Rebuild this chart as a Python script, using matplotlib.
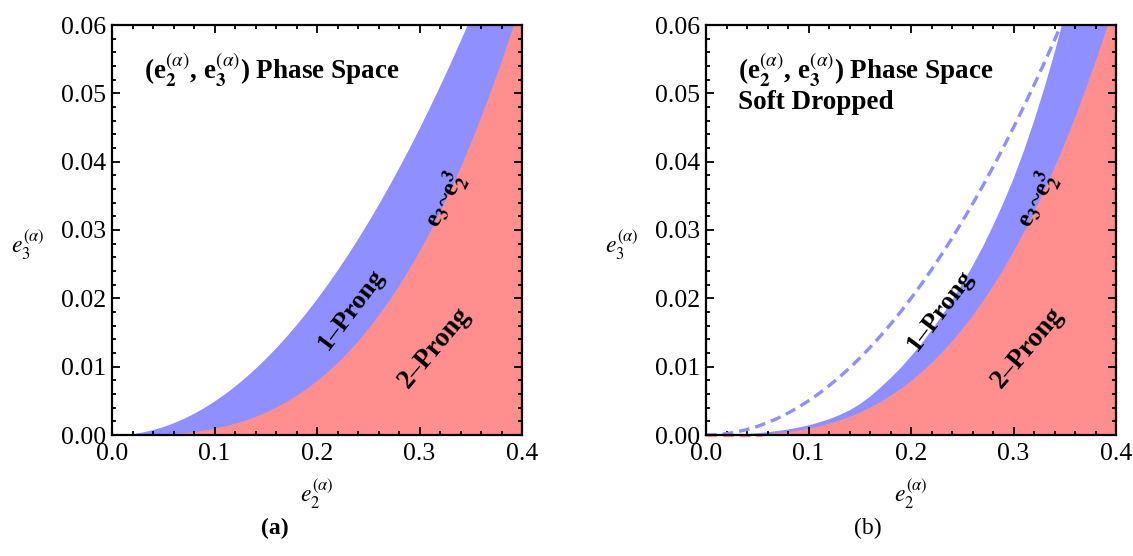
import matplotlib
matplotlib.use("Agg")
import matplotlib.pyplot as plt
import numpy as np

plt.rcParams['font.family'] = 'serif'
plt.rcParams['font.serif'] = ['Liberation Serif', 'DejaVu Serif']
plt.rcParams['mathtext.fontset'] = 'stix'

# ---- data ----
e2 = [0.00, 0.01, 0.02, 0.03, 0.04, 0.05, 0.06, 0.07, 0.08, 0.09, 0.10,
      0.11, 0.12, 0.13, 0.14, 0.15, 0.16, 0.17, 0.18, 0.19, 0.20,
      0.21, 0.22, 0.23, 0.24, 0.25, 0.26, 0.27, 0.28, 0.29, 0.30,
      0.31, 0.32, 0.33, 0.34, 0.35, 0.36, 0.37, 0.38, 0.39, 0.40]
# upper edge of the 1-prong band (also the dashed curve on the right)
upper_1prong = [0.0, 0.00005, 0.0002, 0.00045, 0.0008, 0.00125, 0.0018, 0.00245,
                0.0032, 0.00405, 0.0050, 0.00605, 0.0072, 0.00845, 0.0098,
                0.01125, 0.0128, 0.01445, 0.0162, 0.01805, 0.0200, 0.02205,
                0.0242, 0.02645, 0.0288, 0.03125, 0.0338, 0.03645, 0.0392,
                0.04205, 0.0450, 0.04805, 0.0512, 0.05445, 0.0578, 0.06125,
                0.0648, 0.06845, 0.0722, 0.07605, 0.0800]
# boundary e3 ~ e2^3 (top of the 2-prong region)
boundary_e3_e2cube = [0.0, 0.000001, 0.000008, 0.000027, 0.000064, 0.000125,
                      0.000216, 0.000343, 0.000512, 0.000729, 0.0010, 0.00133,
                      0.00173, 0.0022, 0.00274, 0.00338, 0.0041, 0.00491,
                      0.00583, 0.00686, 0.0080, 0.00926, 0.01065, 0.01217,
                      0.01382, 0.01563, 0.01758, 0.01968, 0.02195, 0.02439,
                      0.0270, 0.02979, 0.03277, 0.03594, 0.0393, 0.04288,
                      0.04666, 0.05065, 0.05487, 0.05932, 0.0640]
# upper edge of the 1-prong band after soft drop
upper_softdrop = [0.0, 0.000003, 0.00002, 0.00006, 0.00015, 0.00026, 0.0004,
                  0.0006, 0.0008, 0.00108, 0.0014, 0.00182, 0.0023, 0.0029,
                  0.0036, 0.0045, 0.0056, 0.0069, 0.0083, 0.0098, 0.0115,
                  0.0133, 0.0153, 0.0174, 0.0197, 0.0221, 0.0247, 0.0275,
                  0.0306, 0.0339, 0.0375, 0.0415, 0.0459, 0.0507, 0.0559,
                  0.0615, 0.0675, 0.0738, 0.0805, 0.0875, 0.0950]
# short red dashed piece along the floor in the soft-dropped panel
floor_e2 = [0.0, 0.055]
floor_e3 = [0.00005, 0.00005]

xticks = [0.0, 0.1, 0.2, 0.3, 0.4]
yticks = [0.00, 0.01, 0.02, 0.03, 0.04, 0.05, 0.06]
xticklabels = ['0.0', '0.1', '0.2', '0.3', '0.4']
yticklabels = ['0.00', '0.01', '0.02', '0.03', '0.04', '0.05', '0.06']

BLUE = '#8f8fff'
RED = '#ff8f8f'

fig = plt.figure(figsize=(11.33, 5.56), dpi=100)
ax_a = fig.add_axes([112/1133, 121/556, 410/1133, 410/556])
ax_b = fig.add_axes([706/1133, 121/556, 410/1133, 410/556])

title_txt = r"(e$_\mathbf{2}^{(\alpha)}$, e$_\mathbf{3}^{(\alpha)}$) Phase Space"
scaling_txt = r"e$_\mathbf{3}$~e$_\mathbf{2}^\mathbf{3}$"


def style(ax):
    ax.set_xlim(0, 0.4)
    ax.set_ylim(0, 0.06)
    ax.set_xticks(xticks)
    ax.set_xticklabels(xticklabels)
    ax.set_yticks(yticks)
    ax.set_yticklabels(yticklabels)
    ax.set_xticks(np.arange(0, 0.4001, 0.02), minor=True)
    ax.set_yticks(np.arange(0, 0.06001, 0.002), minor=True)
    ax.tick_params(which='both', direction='in', top=True, right=True,
                   labelsize=18.5, width=1.3, color='black')
    ax.tick_params(which='major', length=6)
    ax.tick_params(which='minor', length=3.2)
    ax.tick_params(axis='x', pad=6)
    ax.tick_params(axis='y', pad=4)
    for s in ax.spines.values():
        s.set_linewidth(1.6)
    ax.set_xlabel(r"$e_2^{(\alpha)}$", fontsize=17, va='center')
    ax.set_ylabel(r"$e_3^{(\alpha)}$", fontsize=17, rotation=0, ha='center', va='center')
    ax.xaxis.set_label_coords(0.5, -0.145)
    ax.yaxis.set_label_coords(-0.205, 0.462)


# ---- panel (a) ----
ax = ax_a
ax.fill_between(e2, 0, upper_1prong, color=BLUE, lw=0)
ax.fill_between(e2, 0, boundary_e3_e2cube, color=RED, lw=0)
style(ax)
ax.text(0.077, 0.890, title_txt, transform=ax.transAxes, fontsize=19.5,
        fontweight='bold', ha='left', va='center')
ax.text(0.233, 0.0184, "1–Prong", fontsize=19, fontweight='bold', rotation=53,
        ha='center', va='center', rotation_mode='anchor')
ax.text(0.315, 0.0128, "2–Prong", fontsize=19.5, fontweight='bold', rotation=50,
        ha='center', va='center', rotation_mode='anchor')
ax.text(0.325, 0.0343, scaling_txt, fontsize=18.5, fontweight='bold', rotation=62,
        ha='center', va='center', rotation_mode='anchor')

# ---- panel (b) ----
ax = ax_b
ax.fill_between(e2, 0, upper_softdrop, color=BLUE, lw=0)
ax.fill_between(e2, 0, boundary_e3_e2cube, color=RED, lw=0)
ax.plot(e2, upper_1prong, color=BLUE, lw=2.4, ls=(0, (3.2, 1.8)))
ax.plot(floor_e2, floor_e3, color=RED, lw=2.4, ls=(0, (3.2, 1.8)), clip_on=False)
style(ax)
ax.text(0.077, 0.890, title_txt, transform=ax.transAxes, fontsize=19.5,
        fontweight='bold', ha='left', va='center')
ax.text(0.077, 0.810, "Soft Dropped", transform=ax.transAxes, fontsize=19.5,
        fontweight='bold', ha='left', va='center')
ax.text(0.229, 0.0182, "1–Prong", fontsize=19, fontweight='bold', rotation=53,
        ha='center', va='center', rotation_mode='anchor')
ax.text(0.314, 0.0128, "2–Prong", fontsize=19.5, fontweight='bold', rotation=50,
        ha='center', va='center', rotation_mode='anchor')
ax.text(0.323, 0.0343, scaling_txt, fontsize=18.5, fontweight='bold', rotation=62,
        ha='center', va='center', rotation_mode='anchor')

fig.text(275/1133, 1 - 528/556, "(a)", fontsize=17, fontweight='bold',
         ha='center', va='center')
fig.text(868/1133, 1 - 528/556, "(b)", fontsize=17, ha='center', va='center')

fig.savefig("out.png", dpi=100)
